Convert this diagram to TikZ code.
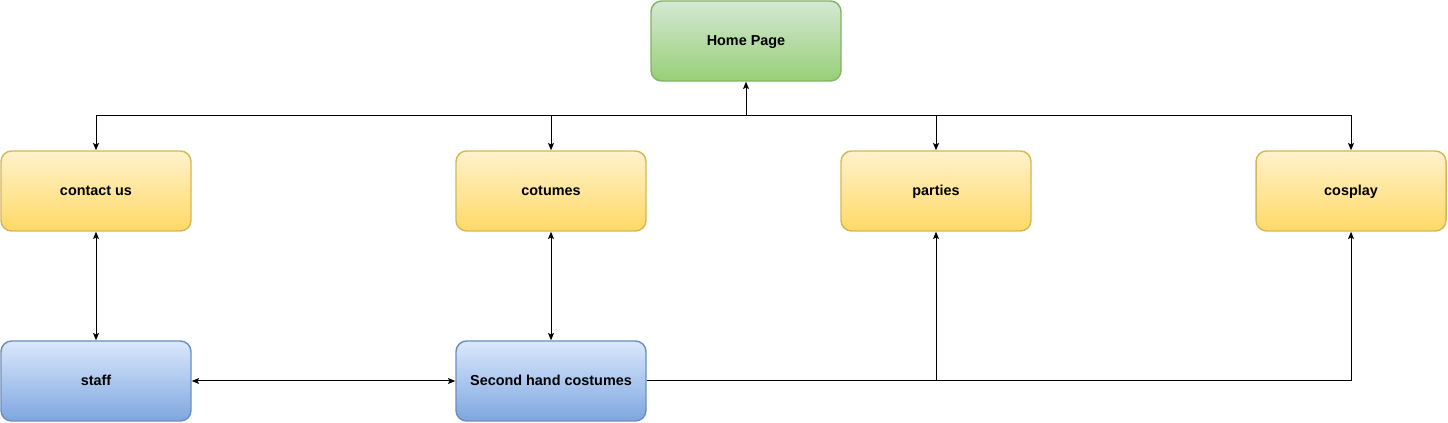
\documentclass[tikz,border=0pt]{standalone}
\usepackage{fontspec}
\setmainfont{Liberation Sans}
\usetikzlibrary{arrows.meta}
\definecolor{ytop}{HTML}{FFF2CC}
\definecolor{ybot}{HTML}{FFD966}
\definecolor{ydraw}{HTML}{D6B656}
\definecolor{gtop}{HTML}{D5E8D4}
\definecolor{gbot}{HTML}{97D077}
\definecolor{gdraw}{HTML}{82B366}
\definecolor{btop}{HTML}{DAE8FC}
\definecolor{bbot}{HTML}{7EA6E0}
\definecolor{bdraw}{HTML}{6C8EBF}
\tikzset{
  box/.style={rectangle, rounded corners=8pt, minimum width=142.5pt, minimum height=60pt,
    line width=1.1pt, inner sep=0pt, text height=7pt, text depth=0pt,
    font=\fontsize{10.8}{12}\selectfont\bfseries},
  ybox/.style={box, draw=ydraw, top color=ytop, bottom color=ybot},
  gbox/.style={box, draw=gdraw, top color=gtop, bottom color=gbot},
  bbox/.style={box, draw=bdraw, top color=btop, bottom color=bbot},
  conn/.style={line width=0.75pt, >={Stealth[length=5.5pt,width=4.5pt,inset=1.2pt]}}
}
\begin{document}
\begin{tikzpicture}[x=0.75pt,y=-0.75pt]
\useasboundingbox (0,0) rectangle (1448,423);
\node[gbox] (home) at (746,41) {Home Page};
\node[ybox] (contact) at (96,191) {contact us};
\node[ybox] (cot) at (551,191) {cotumes};
\node[ybox] (parties) at (936,191) {parties};
\node[ybox] (cosplay) at (1351,191) {cosplay};
\node[bbox] (staff) at (96,381) {staff};
\node[bbox] (second) at (551,381) {Second hand costumes};
\coordinate (j) at (746,116);
\draw[conn,->] (j) -- (home.south);
\draw[conn,->] (j) -| (contact.north);
\draw[conn,->] (j) -| (cot.north);
\draw[conn,->] (j) -| (parties.north);
\draw[conn,->] (j) -| (cosplay.north);
\draw[conn,<->] (contact.south) -- (staff.north);
\draw[conn,<->] (cot.south) -- (second.north);
\draw[conn,<->] (staff.east) -- (second.west);
\draw[conn,->] (second.east) -| (parties.south);
\draw[conn,->] (second.east) -| (cosplay.south);
\end{tikzpicture}
\end{document}
